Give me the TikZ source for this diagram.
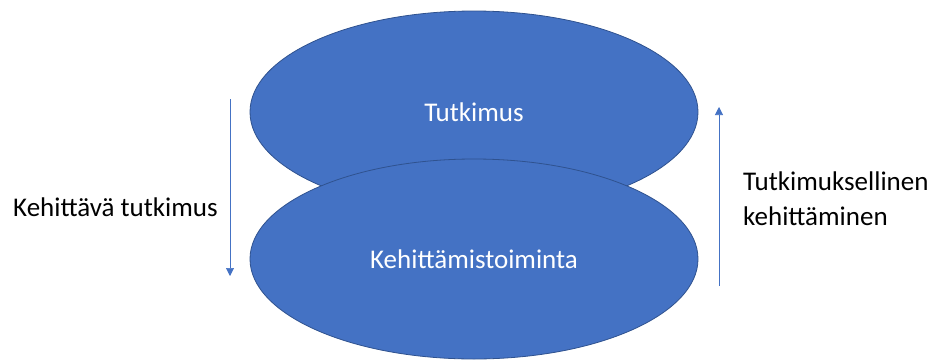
\documentclass[tikz,border=0pt]{standalone}
\usepackage{fontspec}
\setmainfont{Carlito}
\usepackage{tikz}
\usetikzlibrary{shapes.geometric,arrows.meta}

\definecolor{ofill}{HTML}{4472C4}
\definecolor{oline}{HTML}{2F528F}

\tikzset{
	blob/.style={ellipse, fill=ofill, draw=oline, line width=0.8pt, inner sep=0pt,
		minimum width=448pt, minimum height=202pt, text=white, font=\fontsize{27}{32}\selectfont},
	label/.style={font=\fontsize{27}{35}\selectfont, text=black, inner sep=0pt},
	flow/.style={draw=ofill, line width=0.6pt, -{Triangle[width=8pt,length=8pt]}}
}

\begin{document}
\begin{tikzpicture}[x=1pt,y=-1pt]
\useasboundingbox (0,0) rectangle (933,362);

\node[blob] (tutkimus) at (474,112) {Tutkimus};
\node[blob, minimum height=200pt] (kehitys) at (474,259) {Kehittämistoiminta};

\coordinate (down-start) at (230,99);
\coordinate (down-end) at (230,276);
\coordinate (up-start) at (719,286);
\coordinate (up-end) at (719,107);

\draw[flow] (down-start) -- (down-end);
\draw[flow] (up-start) -- (up-end);

\node[label, anchor=west] (kehittava) at (13,207) {Kehittävä tutkimus};
\node[label, anchor=west, align=left] (tutkimuksellinen) at (743,199) {Tutkimuksellinen\\kehittäminen};
\end{tikzpicture}
\end{document}
